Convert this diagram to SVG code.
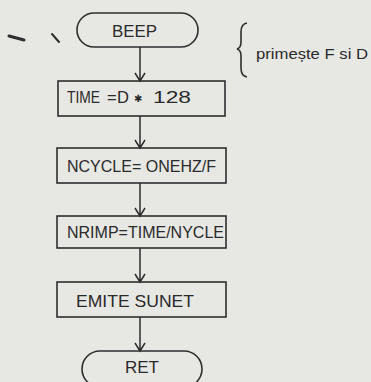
<svg xmlns="http://www.w3.org/2000/svg" width="371" height="382" viewBox="0 0 371 382">
<style>
.bg{fill:#e7e7e4}
.shape{fill:none;stroke:#2e2e2e;stroke-width:1.6}
.conn{fill:none;stroke:#2e2e2e;stroke-width:1.5}
.lbl{font-family:"Liberation Sans","DejaVu Sans",sans-serif;font-size:16.5px;fill:#2a2a2a}
.note{font-family:"Liberation Sans","DejaVu Sans",sans-serif;font-size:15px;fill:#2a2a2a}
</style>
<rect class="bg" x="0" y="0" width="371" height="382"/>
<g id="marks" stroke="#2e2e2e" stroke-linecap="round">
<line x1="9" y1="36" x2="24" y2="40" stroke-width="3"/>
<line x1="52" y1="34" x2="59" y2="42" stroke-width="2"/>
</g>
<g id="connectors">
<path class="conn" d="M140 47 V81 M135 73 L140 81 L145 73"/>
<path class="conn" d="M140 116 V148 M135 140 L140 148 L145 140"/>
<path class="conn" d="M140 183 V216 M135 208 L140 216 L145 208"/>
<path class="conn" d="M140 248 V282 M135 274 L140 282 L145 274"/>
<path class="conn" d="M140 317 V351 M135 343 L140 351 L145 343"/>
</g>
<g id="beep">
<rect class="shape" x="77" y="13" width="121" height="34" rx="17"/>
<text class="lbl" x="112" y="37" textLength="45" lengthAdjust="spacingAndGlyphs">BEEP</text>
</g>
<g id="note">
<path class="shape" d="M247 23 Q241 24 241 32 V42 Q241 48 237 49 Q241 50 241 56 V68 Q241 76 247 77"/>
<text class="note" x="256" y="59" textLength="112" lengthAdjust="spacingAndGlyphs">primește F si D</text>
</g>
<g id="time">
<rect class="shape" x="58" y="81" width="167" height="35"/>
<text class="lbl"><tspan x="67" y="103" textLength="33" lengthAdjust="spacingAndGlyphs">TIME</tspan><tspan x="107" y="103">=</tspan><tspan x="117" y="103">D</tspan><tspan x="134" y="102" font-size="10">✱</tspan><tspan x="153" y="103" textLength="38" lengthAdjust="spacingAndGlyphs">128</tspan></text>
</g>
<g id="ncycle">
<rect class="shape" x="57" y="148" width="169" height="35"/>
<text class="lbl" x="67" y="172" textLength="149" lengthAdjust="spacingAndGlyphs">NCYCLE= ONEHZ/F</text>
</g>
<g id="nrimp">
<rect class="shape" x="57" y="216" width="169" height="32"/>
<text class="lbl" x="67" y="238" textLength="157" lengthAdjust="spacingAndGlyphs">NRIMP=TIME/NYCLE</text>
</g>
<g id="emite">
<rect class="shape" x="57" y="282" width="169" height="35"/>
<text class="lbl" x="76" y="307" textLength="118" lengthAdjust="spacingAndGlyphs">EMITE  SUNET</text>
</g>
<g id="ret">
<rect class="shape" x="82" y="351" width="120" height="36" rx="18"/>
<text class="lbl" x="125" y="373" textLength="34" lengthAdjust="spacingAndGlyphs">RET</text>
</g>
</svg>
